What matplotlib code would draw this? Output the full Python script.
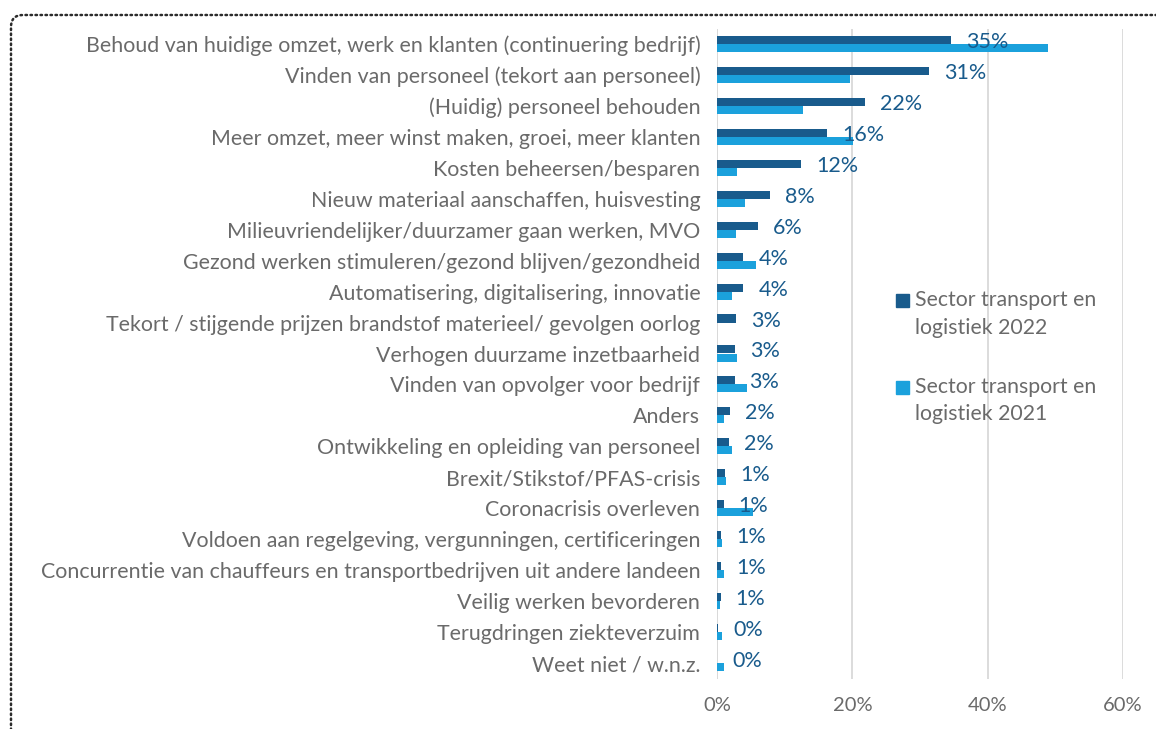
import matplotlib
matplotlib.use('Agg')
import matplotlib.pyplot as plt
from matplotlib.patches import FancyBboxPatch, Rectangle
import numpy as np

categories = [
    'Behoud van huidige omzet, werk en klanten (continuering bedrijf)',
    'Vinden van personeel (tekort aan personeel)',
    '(Huidig) personeel behouden',
    'Meer omzet, meer winst maken, groei, meer klanten',
    'Kosten beheersen/besparen',
    'Nieuw materiaal aanschaffen, huisvesting',
    'Milieuvriendelijker/duurzamer gaan werken, MVO',
    'Gezond werken stimuleren/gezond blijven/gezondheid',
    'Automatisering, digitalisering, innovatie',
    'Tekort / stijgende prijzen brandstof materieel/ gevolgen oorlog',
    'Verhogen duurzame inzetbaarheid',
    'Vinden van opvolger voor bedrijf',
    'Anders',
    'Ontwikkeling en opleiding van personeel',
    'Brexit/Stikstof/PFAS-crisis',
    'Coronacrisis overleven',
    'Voldoen aan regelgeving, vergunningen, certificeringen',
    'Concurrentie van chauffeurs en transportbedrijven uit andere landeen',
    'Veilig werken bevorderen',
    'Terugdringen ziekteverzuim',
    'Weet niet / w.n.z.',
]
sector_2022 = [34.6, 31.4, 21.8, 16.3, 12.4, 7.9, 6.0, 3.9, 3.9, 2.8, 2.7,
               2.6, 1.9, 1.8, 1.2, 1.0, 0.6, 0.6, 0.55, 0.2, 0.05]
sector_2021 = [48.9, 19.6, 12.7, 20.1, 2.9, 4.1, 2.8, 5.7, 2.2, 0.0, 3.0,
               4.4, 1.0, 2.2, 1.3, 5.3, 0.7, 1.0, 0.45, 0.8, 1.0]
series_names = ['Sector transport en\nlogistiek 2022',
                'Sector transport en\nlogistiek 2021']
x_ticks = [0, 20, 40, 60]

dark = '#195B8C'
light = '#1BA1DC'
grey_text = '#6a6a6a'
grid_col = '#D9D9D9'

plt.rcParams['font.family'] = ['Lato', 'DejaVu Sans']

W, H = 1156, 729
fig = plt.figure(figsize=(W / 100, H / 100), dpi=100)
fig.patch.set_facecolor('white')

ax = fig.add_axes([717 / W, 1 - 678.5 / H, (1123 - 717) / W, (678.5 - 28.5) / H])

y = np.arange(len(categories))
h = 0.26
ax.barh(y - h / 2, sector_2022, height=h, color=dark, zorder=3)
ax.barh(y + h / 2, sector_2021, height=h, color=light, zorder=3)

for yi, v in zip(y, sector_2022):
    ax.annotate(f'{v:.0f}%', (v, yi - h / 2), xytext=(15, -2),
                textcoords='offset pixels', va='center', ha='left',
                color=dark, fontsize=15.5, zorder=4)

ax.set_xlim(0, 60)
ax.set_ylim(len(categories) - 0.5, -0.5)
ax.set_xticks(x_ticks)
ax.set_xticklabels([f'{t}%' for t in x_ticks])
ax.set_yticks(y)
ax.set_yticklabels(categories)
ax.tick_params(axis='both', length=0, labelsize=15.4, colors=grey_text)
ax.tick_params(axis='x', labelsize=14.5, pad=13)
ax.tick_params(axis='y', pad=12)
ax.xaxis.grid(True, color=grid_col, lw=1.3, zorder=0)
for s in ax.spines.values():
    s.set_visible(False)
ax.axvline(0, color=grid_col, lw=1.3, zorder=1)

# legend drawn by hand so the square sits on the first line
for i, (name, col) in enumerate(zip(series_names, [dark, light])):
    cy = 300 + i * 87
    fig.patches.append(Rectangle((896 / W, 1 - (cy + 6.5) / H), 13 / W, 13 / H,
                                 transform=fig.transFigure, color=col))
    for j, line in enumerate(name.split('\n')):
        fig.text(915 / W, 1 - (cy + j * 27.5) / H, line, color=grey_text,
                 fontsize=15.3, va='center', ha='left')

# dotted rounded border
border = FancyBboxPatch((0.11, -1.0), 12.0, 7.29 - 0.15 + 1.0,
                        boxstyle='round,pad=0,rounding_size=0.12',
                        transform=fig.dpi_scale_trans, fill=False,
                        edgecolor='#2b2b2b', lw=1.8,
                        linestyle=(0, (0.6, 1.4)), capstyle='round')
fig.patches.append(border)

fig.savefig('out.png', dpi=100)
